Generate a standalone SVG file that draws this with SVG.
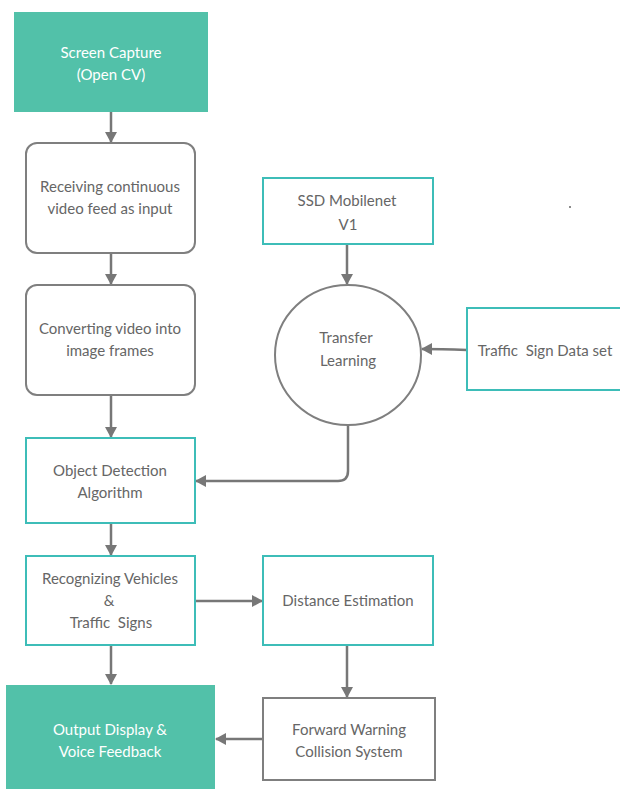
<svg xmlns="http://www.w3.org/2000/svg" width="620" height="789" viewBox="0 0 620 789">
<style>
.t{font-family:Lato,"Open Sans","Liberation Sans",sans-serif;font-size:15px;fill:#666;text-anchor:middle}
.w{fill:#fff}
.fill{fill:#52c1a9;stroke:none}
.teal{fill:#fff;stroke:#3dbdb8;stroke-width:2}
.gray{fill:#fff;stroke:#7f7f7f;stroke-width:2}
.c{fill:none;stroke:#777;stroke-width:2.5}
</style>
<defs>
<marker id="a" markerWidth="12" markerHeight="12" refX="10" refY="6" orient="auto" markerUnits="userSpaceOnUse">
<path d="M0,0 L11,6 L0,12 Z" fill="#777"/>
</marker>
</defs>
<rect width="620" height="789" fill="#fff"/>
<g id="connectors">
<path class="c" d="M111,112 V142" marker-end="url(#a)"/>
<path class="c" d="M111,253 V284" marker-end="url(#a)"/>
<path class="c" d="M111,395 V437" marker-end="url(#a)"/>
<path class="c" d="M111,523 V555" marker-end="url(#a)"/>
<path class="c" d="M111,645 V684" marker-end="url(#a)"/>
<path class="c" d="M195,601 H262" marker-end="url(#a)"/>
<path class="c" d="M347,645 V697" marker-end="url(#a)"/>
<path class="c" d="M263,739 H216" marker-end="url(#a)"/>
<path class="c" d="M347,244 V284" marker-end="url(#a)"/>
<path class="c" d="M467,350 Q440,349 422,349" marker-end="url(#a)"/>
<path class="c" d="M348,425 V471 Q348,481 338,481 H196" marker-end="url(#a)"/>
</g>
<g id="screen-capture">
<rect class="fill" x="14" y="12" width="194" height="100"/>
<text class="t w" x="111" y="58">Screen Capture</text>
<text class="t w" x="111" y="80">(Open CV)</text>
</g>
<g id="receiving">
<rect class="gray" x="26" y="143" width="169" height="110" rx="11"/>
<text class="t" x="110" y="192">Receiving continuous</text>
<text class="t" x="110" y="214">video feed as input</text>
</g>
<g id="converting">
<rect class="gray" x="26" y="285" width="169" height="110" rx="11"/>
<text class="t" x="110" y="334">Converting video into</text>
<text class="t" x="110" y="356">image frames</text>
</g>
<g id="object-detection">
<rect class="teal" x="26" y="438" width="169" height="85"/>
<text class="t" x="110" y="476">Object Detection</text>
<text class="t" x="110" y="498">Algorithm</text>
</g>
<g id="recognizing">
<rect class="teal" x="26" y="556" width="169" height="89"/>
<text class="t" x="110" y="584">Recognizing Vehicles</text>
<text class="t" x="109" y="606">&amp;</text>
<text class="t" x="111" y="628" xml:space="preserve">Traffic  Signs</text>
</g>
<g id="distance">
<rect class="teal" x="263" y="556" width="170" height="89"/>
<text class="t" x="348" y="606">Distance Estimation</text>
</g>
<g id="forward-warning">
<rect class="gray" x="263" y="698" width="172" height="82"/>
<text class="t" x="349" y="735">Forward Warning</text>
<text class="t" x="349" y="757">Collision System</text>
</g>
<g id="output">
<rect class="fill" x="6" y="685" width="209" height="104"/>
<text class="t w" x="110" y="735">Output Display &amp;</text>
<text class="t w" x="110" y="757">Voice Feedback</text>
</g>
<g id="ssd">
<rect class="teal" x="263" y="178" width="170" height="66"/>
<text class="t" x="347" y="206">SSD Mobilenet</text>
<text class="t" x="348" y="230">V1</text>
</g>
<g id="transfer">
<ellipse class="gray" cx="348" cy="355" rx="73" ry="70"/>
<text class="t" x="346" y="343">Transfer</text>
<text class="t" x="348" y="366">Learning</text>
</g>
<g id="traffic-data">
<rect class="teal" x="467" y="308" width="160" height="82"/>
<text class="t" x="545" y="356" xml:space="preserve">Traffic  Sign Data set</text>
</g>
<circle cx="570" cy="207" r="1" fill="#666"/>
</svg>
